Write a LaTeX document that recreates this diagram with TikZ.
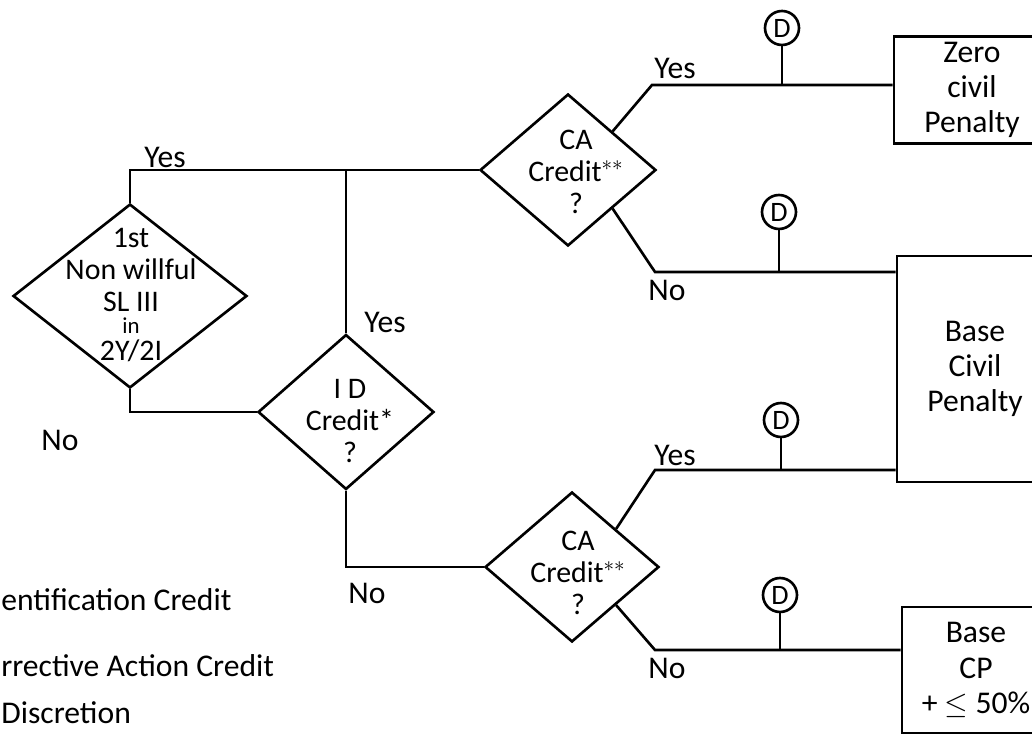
\documentclass[tikz,border=0pt]{standalone}
\usepackage{fontspec}
\setmainfont{Carlito}
\usetikzlibrary{shapes.geometric}

\begin{document}
\begin{tikzpicture}[x=0.02cm, y=-0.02cm, line width=1.5pt,
    dia/.style={draw, diamond, inner sep=0pt},
    dtxt/.style={align=center, inner sep=0pt, font=\fontsize{17}{18}\selectfont},
    box/.style={draw, rectangle, align=center, font=\fontsize{18}{20}\selectfont},
    dcirc/.style={draw, circle, minimum size=0.68cm, inner sep=0pt, font=\fontsize{16}{16}\selectfont},
    lbl/.style={font=\fontsize{18}{20}\selectfont}]
    \useasboundingbox (0,0) rectangle (1032,736);
    \clip (0,0) rectangle (1032,736);
    % decision diamonds
    \node[dia, minimum width=4.68cm, minimum height=3.68cm] (first) at (130,296) {};
    \node[dtxt] (firstt) at (131,295) {1st\\Non willful\\SL III\\[-5pt]{\fontsize{13}{13}\selectfont in}\\[-3pt]2Y/2I};
    \node[dia, minimum width=3.52cm, minimum height=3.1cm] (id) at (346,412) {};
    \node[dtxt] (idt) at (350,421) {I D\\Credit*\\?};
    \node[dia, minimum width=3.52cm, minimum height=3.04cm] (ca1) at (568,170) {};
    \node[dtxt] (ca1t) at (576,172) {CA\\Credit$^{**}$\\?};
    \node[dia, minimum width=3.48cm, minimum height=3.0cm] (ca2) at (572,567) {};
    \node[dtxt] (ca2t) at (578,573) {CA\\Credit$^{**}$\\?};
    % outcome boxes
    \node[box, minimum width=3.12cm, minimum height=1.92cm] (zero) at (972,90) {Zero\\civil\\Penalty};
    \node[box, minimum width=3.12cm, minimum height=4.52cm] (base) at (975,369) {Base\\Civil\\Penalty};
    \node[box, minimum width=2.96cm, minimum height=2.52cm] (basecp) at (976,670) {Base\\CP\\+ $\leq$ 50\%};
    % discretion circles
    \node[dcirc] (d1) at (782,28) {D};
    \node[dcirc] (d2) at (779,212) {D};
    \node[dcirc] (d3) at (781,420) {D};
    \node[dcirc] (d4) at (780,595) {D};
    % branch corners
    \coordinate (y1) at (652,85);
    \coordinate (n1) at (655,272);
    \coordinate (y2) at (655,470);
    \coordinate (n2) at (655,650);
    \coordinate (j1) at (id.north |- ca1.west);
    % connectors
    \draw (first.north) |- (ca1.west);
    \draw (id.north) -- (j1);
    \draw (first.south) |- (id.west);
    \draw (id.south) |- (ca2.west);
    \draw (ca1.north east) -- (y1) -- (y1 -| zero.west);
    \draw (ca1.south east) -- (n1) -- (n1 -| base.west);
    \draw (ca2.north east) -- (y2) -- (y2 -| base.west);
    \draw (ca2.south east) -- (n2) -- (n2 -| basecp.west);
    \draw (d1.south) -- (d1.south |- y1);
    \draw (d2.south) -- (d2.south |- n1);
    \draw (d3.south) -- (d3.south |- y2);
    \draw (d4.south) -- (d4.south |- n2);
    % branch labels
    \node[lbl] (yes1) at (165,157) {Yes};
    \node[lbl] (yes2) at (385,322) {Yes};
    \node[lbl] (no1) at (60,440) {No};
    \node[lbl] (no2) at (367,593) {No};
    \node[lbl] (yes3) at (675,68) {Yes};
    \node[lbl] (no3) at (667,290) {No};
    \node[lbl] (yes4) at (675,455) {Yes};
    \node[lbl] (no4) at (667,668) {No};
    % footnotes
    \node[lbl, anchor=west, inner sep=0pt] (fn1) at (0,600) {entification Credit};
    \node[lbl, anchor=west, inner sep=0pt] (fn2) at (0,666) {rrective Action Credit};
    \node[lbl, anchor=west, inner sep=0pt] (fn3) at (0,713) {Discretion};
\end{tikzpicture}
\end{document}
